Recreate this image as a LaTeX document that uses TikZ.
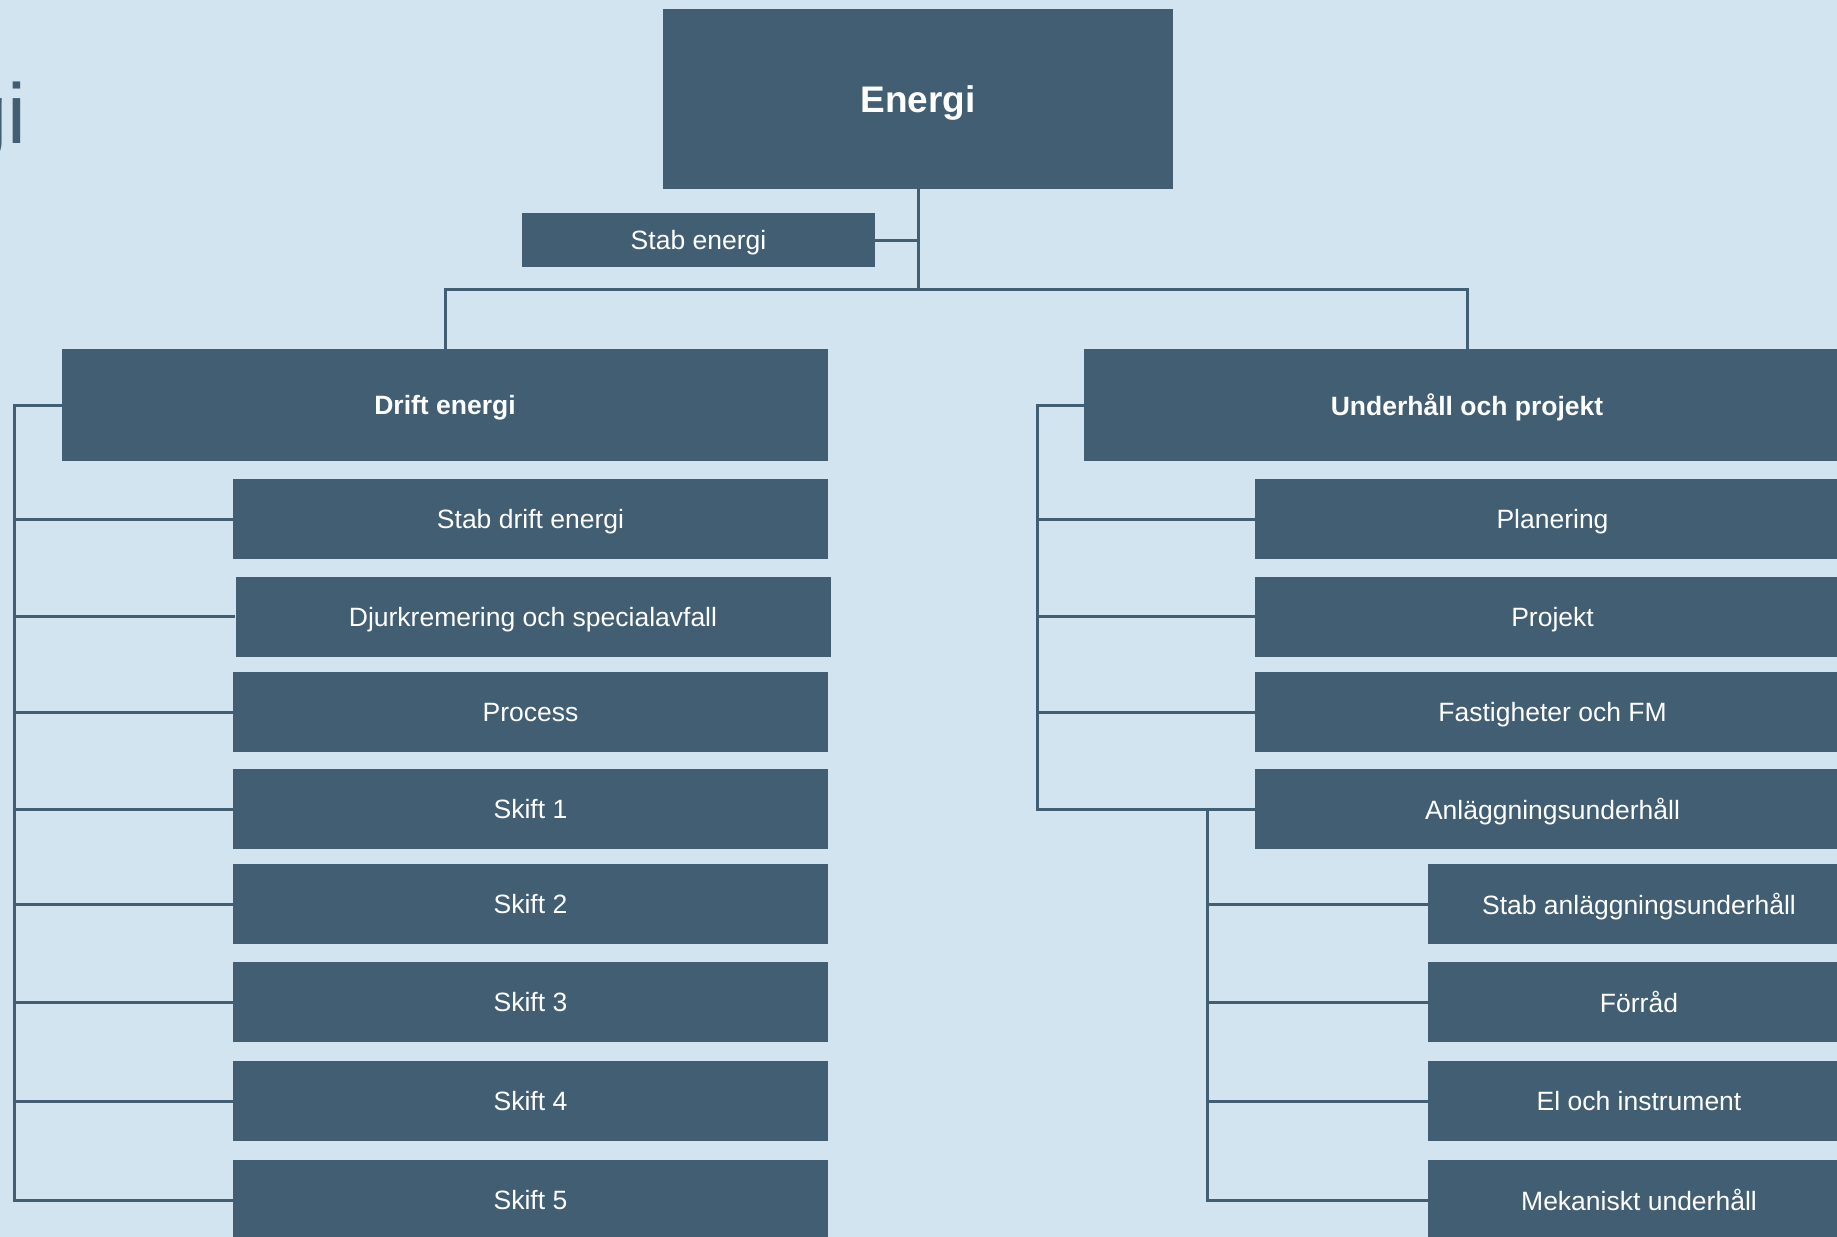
\documentclass[tikz,border=0pt]{standalone}
\usepackage{fontspec}
\setmainfont{Liberation Sans}
\definecolor{bgc}{HTML}{D2E4F0}
\definecolor{boxc}{HTML}{415E73}
\begin{document}
\begin{tikzpicture}[x=1pt,y=-1pt,
  box/.style={fill=boxc,draw=none,inner sep=0pt,text=white,text depth=0pt,font=\fontsize{26.5}{30}\selectfont,minimum height=80pt},
  bigbox/.style={box,font=\fontsize{26.5}{30}\selectfont\bfseries,minimum width=766pt,minimum height=112pt},
  lchild/.style={box,minimum width=595pt},
  rsub/.style={box,minimum width=422pt},
  conn/.style={draw=boxc,line width=3pt}]
\useasboundingbox (0,0) rectangle (1837,1237);
\fill[bgc] (0,0) rectangle (1837,1237);
% title fragment
\node[anchor=base east,inner sep=0pt,text=boxc,font=\fontsize{85}{90}\selectfont] (title) at (27,143) {gi};
% top
\node[box,font=\fontsize{37}{42}\selectfont\bfseries,minimum width=510pt,minimum height=180pt] (energi) at (918,99) {Energi};
\node[box,minimum width=353pt,minimum height=54pt] (stabE) at (698.5,240) {Stab energi};
\node[bigbox] (drift) at (445,405) {Drift energi};
\node[bigbox] (underhall) at (1467,405) {Underhåll och projekt};
% left column
\node[lchild] (stabdrift) at (530.5,519) {Stab drift energi};
\node[lchild] (djur) at (533,616.5) {Djurkremering och specialavfall};
\node[lchild] (process) at (530.5,712) {Process};
\node[lchild] (skift1) at (530.5,809) {Skift 1};
\node[lchild] (skift2) at (530.5,904) {Skift 2};
\node[lchild] (skift3) at (530.5,1002) {Skift 3};
\node[lchild] (skift4) at (530.5,1101) {Skift 4};
\node[lchild] (skift5) at (530.5,1200) {Skift 5};
% right column
\node[lchild] (planering) at (1552.5,519) {Planering};
\node[lchild] (projekt) at (1552.5,616.5) {Projekt};
\node[lchild] (fastigheter) at (1552.5,712) {Fastigheter och FM};
\node[lchild] (anl) at (1552.5,809) {Anläggningsunderhåll};
\node[rsub] (stabanl) at (1639,904) {Stab anläggningsunderhåll};
\node[rsub] (forrad) at (1639,1002) {Förråd};
\node[rsub] (el) at (1639,1101) {El och instrument};
\node[rsub] (mek) at (1639,1200) {Mekaniskt underhåll};
% connectors
\coordinate (busM) at (918,289);
\coordinate (lx) at (14,0);
\coordinate (rx) at (1037,0);
\coordinate (sx) at (1207,0);
\draw[conn] (energi.south) -- (busM);
\draw[conn] (stabE.east) -- (stabE.east -| energi.south);
\draw[conn] (drift.north) |- (busM) -| (underhall.north);
\draw[conn] (drift.west) -| (lx |- skift5.west) -- (skift5.west);
\foreach \n in {stabdrift,djur,process,skift1,skift2,skift3,skift4}
  \draw[conn] (lx |- \n.west) -- (\n.west);
\draw[conn] (underhall.west) -| (rx |- anl.west) -- (anl.west);
\foreach \n in {planering,projekt,fastigheter}
  \draw[conn] (rx |- \n.west) -- (\n.west);
\draw[conn] (sx |- anl.west) |- (mek.west);
\foreach \n in {stabanl,forrad,el}
  \draw[conn] (sx |- \n.west) -- (\n.west);
\end{tikzpicture}
\end{document}
